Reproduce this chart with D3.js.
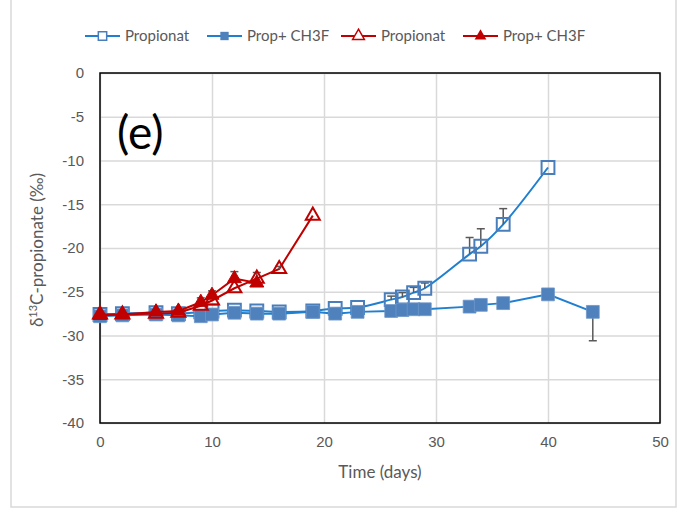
<!DOCTYPE html>
<html>
<head>
<meta charset="utf-8">
<script src="https://cdn.jsdelivr.net/npm/d3@7"></script>
<style>
  body { margin: 0; background: #fff; }
  svg { font-family: Lato, "Open Sans", sans-serif; }
</style>
</head>
<body>
<svg id="chart" width="682" height="509"></svg>
<script>
// Blue series (Propionat, open squares)
const daysBlue = [0, 2, 5, 7, 9, 10, 12, 14, 16, 19, 21, 23, 26, 27, 28, 29, 33, 34, 36, 40];
const blueOpen = [-27.6, -27.5, -27.4, -27.5, -27.3, -27.2, -27.1, -27.2, -27.3, -27.2, -26.9, -26.8, -25.9, -25.6, -25.1, -24.6, -20.7, -19.8, -17.3, -10.8];
const blueOpenErrUp = [0, 0, 0, 0, 0, 0, 0, 0, 0, 0, 0, 0, 0.4, 0.5, 0.6, 0.6, 1.9, 2.0, 1.8, 0];

// Blue series (Prop+ CH3F, filled squares)
const daysBlueF = [0, 2, 5, 7, 9, 10, 12, 14, 16, 19, 21, 23, 26, 27, 28, 29, 33, 34, 36, 40, 44];
const blueFilled = [-27.8, -27.7, -27.6, -27.7, -27.8, -27.6, -27.4, -27.5, -27.5, -27.3, -27.5, -27.3, -27.2, -27.1, -27.0, -27.0, -26.7, -26.5, -26.3, -25.3, -27.3];
const blueFilledErrDown = [0, 0, 0, 0, 0, 0, 0, 0, 0, 0, 0, 0, 0, 0, 0, 0, 0, 0, 0, 0, 3.3];

// Red series (Propionat, open triangles)
const daysRed = [0, 2, 5, 7, 9, 10, 12, 14, 16, 19];
const redOpen = [-27.6, -27.6, -27.5, -27.4, -26.6, -26.0, -24.6, -23.5, -22.4, -16.3];
const redOpenErrUp = [0, 0, 0, 0, 0, 0, 0, 0.7, 0.3, 0];

// Red series (Prop+ CH3F, filled triangles)
const daysRedF = [0, 2, 5, 7, 9, 10, 12, 14];
const redFilled = [-27.7, -27.6, -27.3, -27.2, -26.2, -25.4, -23.5, -24.0];
const redFilledErrUp = [0, 0, 0, 0, 0.5, 0.5, 0.8, 0];

const xTicks = [0, 10, 20, 30, 40, 50];
const yTicks = [0, -5, -10, -15, -20, -25, -30, -35, -40];
const legendLabels = ["Propionat", "Prop+ CH3F", "Propionat", "Prop+ CH3F"];

const blueLine = "#1f7fd0", blueMark = "#4f81bd", blueOpenStroke = "#4a7ebb";
const red = "#c00000", errColor = "#595959";

const svg = d3.select("#chart");
const margin = {top: 73, left: 100, right: 22, bottom: 86};
const width = 682, height = 509;

// outer chart border
svg.append("rect")
  .attr("x", 11).attr("y", -1).attr("width", 665).attr("height", 508)
  .attr("fill", "none").attr("stroke", "#d9d9d9").attr("stroke-width", 1.5);

const x = d3.scaleLinear().domain([0, 50]).range([margin.left, width - margin.right]);
const y = d3.scaleLinear().domain([-40, 0]).range([height - margin.bottom, margin.top]);

// gridlines
svg.append("g").attr("transform", `translate(0,${y(-40)})`)
  .call(d3.axisBottom(x).tickValues(xTicks).tickSize(-(y(-40) - y(0))).tickFormat(""))
  .call(g => g.select(".domain").remove())
  .selectAll("line").attr("stroke", "#d9d9d9").attr("stroke-width", 1.5);
svg.append("g").attr("transform", `translate(${x(0)},0)`)
  .call(d3.axisLeft(y).tickValues(yTicks).tickSize(-(x(50) - x(0))).tickFormat(""))
  .call(g => g.select(".domain").remove())
  .selectAll("line").attr("stroke", "#d9d9d9").attr("stroke-width", 1.5);

// tick labels (hyphen minus, as in the original)
const xAxisG = svg.append("g").attr("transform", `translate(0,${y(-40)})`)
  .call(d3.axisBottom(x).tickValues(xTicks).tickSize(0).tickPadding(13).tickFormat(d => String(d)));
xAxisG.select(".domain").remove();
xAxisG.selectAll("text").attr("fill", "#595959").style("font-size", "15px");

const yAxisG = svg.append("g").attr("transform", `translate(${x(0)},0)`)
  .call(d3.axisLeft(y).tickValues(yTicks).tickSize(0).tickPadding(16).tickFormat(d => String(d)));
yAxisG.select(".domain").remove();
yAxisG.selectAll("text").attr("fill", "#595959").style("font-size", "15px");

// plot box
svg.append("rect")
  .attr("x", x(0)).attr("y", y(0)).attr("width", x(50) - x(0)).attr("height", y(-40) - y(0))
  .attr("fill", "none").attr("stroke", "#000").attr("stroke-width", 1.5);

// axis titles
svg.append("text").attr("x", 380).attr("y", 478).attr("text-anchor", "middle")
  .attr("fill", "#595959").style("font-size", "17px").text("Time (days)");
const yt = svg.append("text").attr("transform", "translate(43,250) rotate(-90)")
  .attr("text-anchor", "middle").attr("fill", "#595959").style("font-size", "17px");
yt.append("tspan").text("δ");
yt.append("tspan").attr("dy", -6).style("font-size", "11px").text("13");
yt.append("tspan").attr("dy", 6).text("C-propionate (‰)");

svg.append("text").attr("x", 117).attr("y", 149).style("font-size", "46px").attr("fill", "#000").text("(e)");

const sq = d3.symbol().type(d3.symbolSquare).size(165);
const tri = d3.symbol().type(d3.symbolTriangle).size(85);
const triS = d3.symbol().type(d3.symbolTriangle).size(60);

function errBars(days, vals, errs, dir) {
  const data = days.map((d, i) => ({d, v: vals[i], e: errs[i]})).filter(p => p.e > 0);
  const g = svg.append("g").attr("stroke", errColor).attr("stroke-width", 1.5);
  g.selectAll("line.v").data(data).join("line")
    .attr("x1", p => x(p.d)).attr("x2", p => x(p.d))
    .attr("y1", p => y(p.v)).attr("y2", p => y(p.v + dir * p.e));
  g.selectAll("line.c").data(data).join("line")
    .attr("x1", p => x(p.d) - 4).attr("x2", p => x(p.d) + 4)
    .attr("y1", p => y(p.v + dir * p.e)).attr("y2", p => y(p.v + dir * p.e));
}

// blue open series (smoothed line)
svg.append("path").datum(daysBlue.map((d, i) => [d, blueOpen[i]]))
  .attr("fill", "none").attr("stroke", blueLine).attr("stroke-width", 2)
  .attr("d", d3.line().x(p => x(p[0])).y(p => y(p[1])).curve(d3.curveCatmullRom.alpha(0.5)));
errBars(daysBlue, blueOpen, blueOpenErrUp, 1);
svg.append("g").selectAll("path").data(daysBlue.map((d, i) => [d, blueOpen[i]])).join("path")
  .attr("transform", p => `translate(${x(p[0])},${y(p[1])})`)
  .attr("d", sq).attr("fill", "#fff").attr("fill-opacity", 0).attr("stroke", blueOpenStroke).attr("stroke-width", 2);

// blue filled series
svg.append("path").datum(daysBlueF.map((d, i) => [d, blueFilled[i]]))
  .attr("fill", "none").attr("stroke", blueLine).attr("stroke-width", 2)
  .attr("d", d3.line().x(p => x(p[0])).y(p => y(p[1])));
errBars(daysBlueF, blueFilled, blueFilledErrDown, -1);
svg.append("g").selectAll("path").data(daysBlueF.map((d, i) => [d, blueFilled[i]])).join("path")
  .attr("transform", p => `translate(${x(p[0])},${y(p[1])})`)
  .attr("d", sq).attr("fill", blueMark).attr("stroke", "#6f97c9").attr("stroke-width", 0.8);

// red open series
svg.append("path").datum(daysRed.map((d, i) => [d, redOpen[i]]))
  .attr("fill", "none").attr("stroke", red).attr("stroke-width", 2)
  .attr("d", d3.line().x(p => x(p[0])).y(p => y(p[1])));
errBars(daysRed, redOpen, redOpenErrUp, 1);
svg.append("g").selectAll("path").data(daysRed.map((d, i) => [d, redOpen[i]])).join("path")
  .attr("transform", p => `translate(${x(p[0])},${y(p[1])})`)
  .attr("d", tri).attr("fill", "none").attr("stroke", red).attr("stroke-width", 2);

// red filled series
svg.append("path").datum(daysRedF.map((d, i) => [d, redFilled[i]]))
  .attr("fill", "none").attr("stroke", red).attr("stroke-width", 2)
  .attr("d", d3.line().x(p => x(p[0])).y(p => y(p[1])));
errBars(daysRedF, redFilled, redFilledErrUp, 1);
svg.append("g").selectAll("path").data(daysRedF.map((d, i) => [d, redFilled[i]])).join("path")
  .attr("transform", p => `translate(${x(p[0])},${y(p[1])})`)
  .attr("d", tri).attr("fill", red).attr("stroke", red).attr("stroke-width", 1);

// legend
const legX = [85, 207, 341, 463];
const legColors = [blueLine, blueLine, red, red];
legendLabels.forEach((lab, i) => {
  const g = svg.append("g").attr("transform", `translate(${legX[i]},36)`);
  g.append("line").attr("x1", 0).attr("x2", 35).attr("stroke", legColors[i]).attr("stroke-width", 2);
  const m = g.append("path").attr("transform", "translate(17.5,0)");
  if (i === 0) m.attr("d", d3.symbol().type(d3.symbolSquare).size(70)).attr("fill", "#fff").attr("stroke", blueOpenStroke).attr("stroke-width", 1.5);
  if (i === 1) m.attr("d", d3.symbol().type(d3.symbolSquare).size(70)).attr("fill", blueMark);
  if (i === 2) m.attr("d", triS).attr("fill", "#fff").attr("stroke", red).attr("stroke-width", 1.5);
  if (i === 3) m.attr("d", triS).attr("fill", red);
  g.append("text").attr("x", 40).attr("y", 5).attr("fill", "#595959").style("font-size", "15px").text(lab);
});
</script>
</body>
</html>
